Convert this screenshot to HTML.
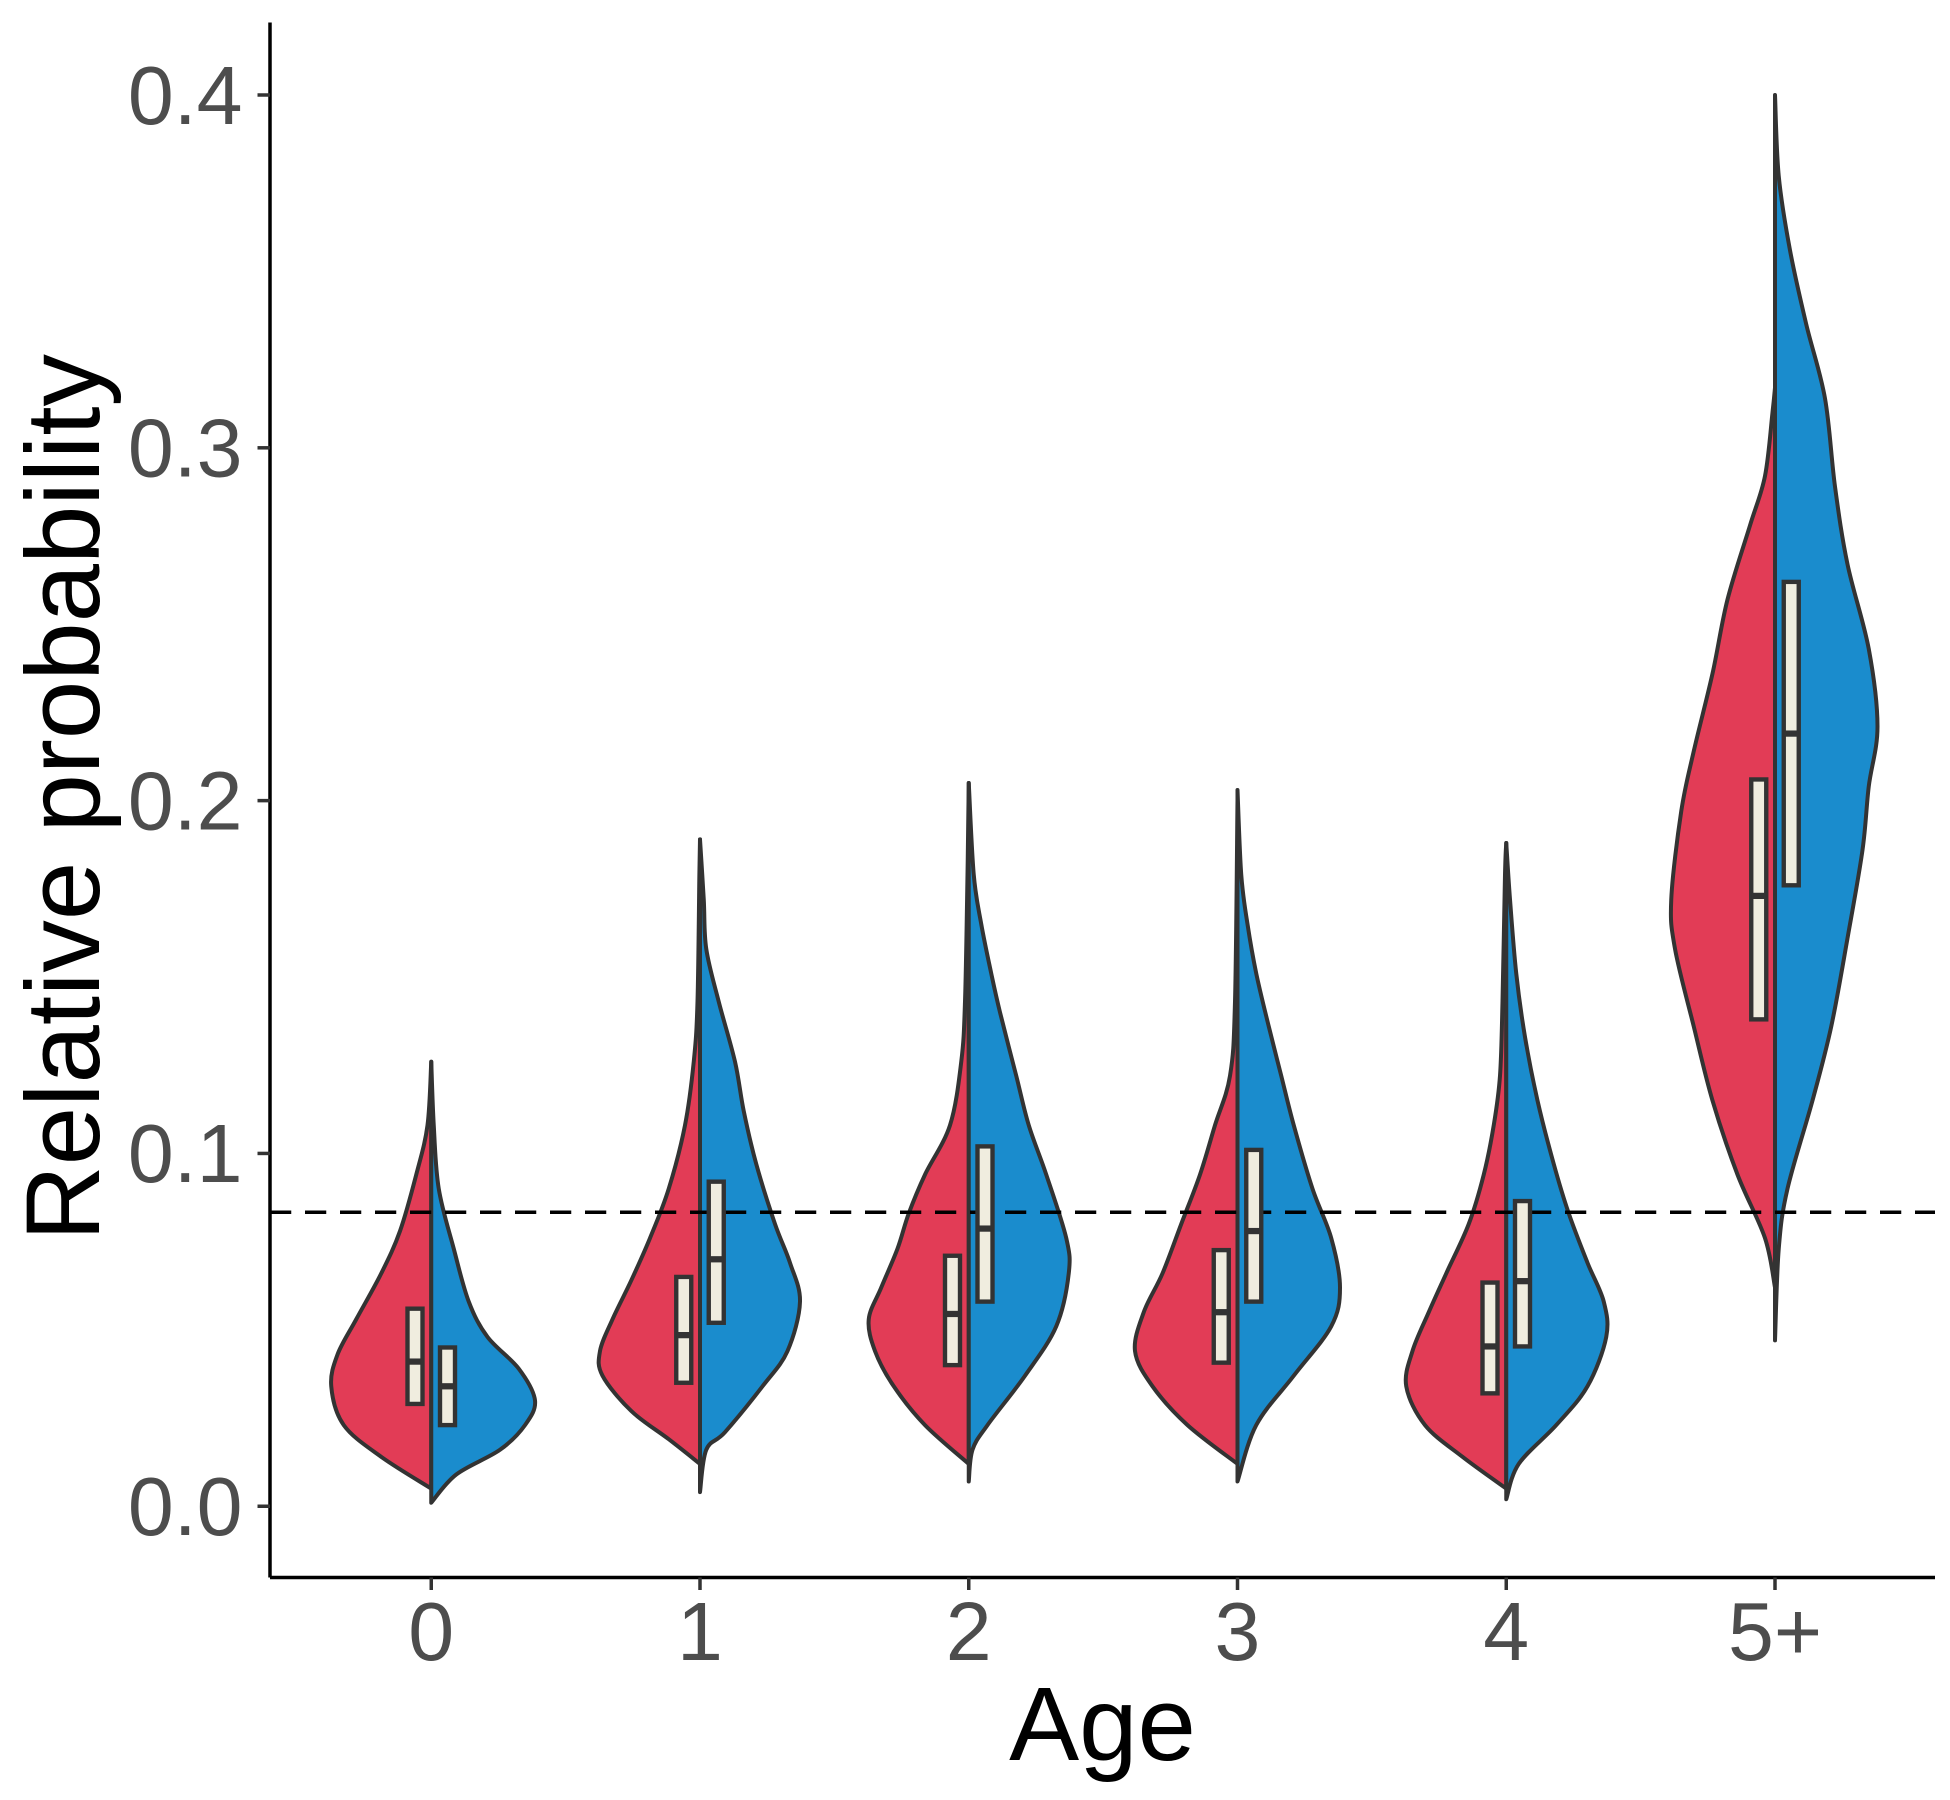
<!DOCTYPE html>
<html><head><meta charset="utf-8"><style>
html,body{margin:0;padding:0;background:#fff;}
svg{display:block;}
text{font-family:"Liberation Sans",Arial,sans-serif;}
</style></head><body>
<svg id="chart" width="1950" height="1800" viewBox="0 0 1560 1440" xmlns="http://www.w3.org/2000/svg">
<g id="marks"></g>
<line x1="216" y1="18" x2="216" y2="1262" stroke="#000" stroke-width="2.8"/>
<line x1="216" y1="1262" x2="1548" y2="1262" stroke="#000" stroke-width="2.8"/>
<g id="axes"></g>
<text x="882" y="1408" font-size="84" text-anchor="middle" fill="#000">Age</text>
<text transform="translate(79,638) rotate(-90)" font-size="84" text-anchor="middle" fill="#000">Relative probability</text>
</svg>
<script>
const categories = ["0","1","2","3","4","5+"];
const yTicks = [0.0,0.1,0.2,0.3,0.4];
const yTickLabels = ["0.0","0.1","0.2","0.3","0.4"];
const refLine = 1/12;
const redProfiles = [
 [[0.005,0],[0.014,40],[0.023,70],[0.034,80],[0.043,75],[0.053,60],[0.066,40],[0.078,25],[0.094,12],[0.108,3],[0.126,0]],
 [[0.012,0],[0.019,25],[0.027,55],[0.037,78],[0.044,80],[0.053,70],[0.064,55],[0.076,40],[0.090,25],[0.108,12],[0.126,5],[0.143,2],[0.179,0.5],[0.189,0]],
 [[0.012,0],[0.023,35],[0.034,60],[0.044,75],[0.053,80],[0.062,70],[0.073,57],[0.083,48],[0.094,35],[0.108,15],[0.126,6],[0.143,3],[0.179,1],[0.205,0]],
 [[0.012,0],[0.023,40],[0.034,68],[0.044,82],[0.055,75],[0.066,60],[0.080,45],[0.094,30],[0.108,18],[0.122,6],[0.143,2],[0.200,0]],
 [[0.005,0],[0.014,35],[0.023,65],[0.034,80],[0.044,75],[0.055,62],[0.066,48],[0.080,30],[0.094,18],[0.108,10],[0.122,5],[0.143,3],[0.179,1],[0.188,0]],
 [[0.062,0],[0.076,8],[0.094,30],[0.115,50],[0.136,65],[0.158,80],[0.172,83],[0.197,75],[0.214,65],[0.236,50],[0.257,38],[0.278,20],[0.292,8],[0.310,2],[0.317,0]]
];
const blueProfiles = [
 [[0.001,0],[0.009,20],[0.016,55],[0.023,75],[0.030,83],[0.039,70],[0.048,45],[0.058,30],[0.073,18],[0.090,6],[0.108,2],[0.126,0]],
 [[0.004,0],[0.016,5],[0.021,20],[0.034,50],[0.044,70],[0.058,80],[0.069,72],[0.080,60],[0.097,45],[0.112,35],[0.126,28],[0.143,15],[0.158,5],[0.172,3],[0.189,0]],
 [[0.007,0],[0.016,3],[0.023,15],[0.037,45],[0.051,70],[0.066,80],[0.076,78],[0.094,62],[0.108,48],[0.122,38],[0.140,25],[0.151,18],[0.165,10],[0.179,4],[0.205,0]],
 [[0.007,0],[0.023,15],[0.037,45],[0.051,75],[0.062,82],[0.076,75],[0.090,60],[0.108,45],[0.122,35],[0.136,25],[0.151,15],[0.165,8],[0.179,3],[0.203,0]],
 [[0.002,0],[0.012,10],[0.023,40],[0.034,65],[0.048,80],[0.058,78],[0.069,65],[0.083,50],[0.097,38],[0.115,25],[0.133,15],[0.151,8],[0.172,3],[0.188,0]],
 [[0.047,0],[0.073,3],[0.090,10],[0.115,30],[0.136,45],[0.161,58],[0.186,70],[0.204,75],[0.221,82],[0.243,75],[0.267,58],[0.289,48],[0.314,40],[0.335,25],[0.356,12],[0.377,3],[0.400,0]]
];
const redQ1 = [0.029,0.035,0.040,0.0407,0.032,0.138];
const redMedian = [0.041,0.0485,0.0545,0.055,0.0453,0.173];
const redQ3 = [0.056,0.065,0.071,0.0726,0.0634,0.206];
const blueQ1 = [0.023,0.052,0.058,0.058,0.0453,0.176];
const blueMedian = [0.034,0.070,0.0787,0.078,0.0638,0.219];
const blueQ3 = [0.045,0.092,0.102,0.101,0.0865,0.262];

const NS="http://www.w3.org/2000/svg";
const y = v => 1205 - v*2822.5;
const x = i => 345 + i*215;
const wScale = d => d;
const marks = document.getElementById('marks');
const axes = document.getElementById('axes');
function mk(tag, attrs, parent){const e=document.createElementNS(NS,tag);for(const k in attrs)e.setAttribute(k,attrs[k]);parent.appendChild(e);return e;}

function smoothPath(pts){
  let d=`M${pts[0][0]},${pts[0][1]}`;
  for(let i=0;i<pts.length-1;i++){
    const p0=pts[Math.max(0,i-1)],p1=pts[i],p2=pts[i+1],p3=pts[Math.min(pts.length-1,i+2)];
    const c1x=p1[0]+(p2[0]-p0[0])/6,c1y=p1[1]+(p2[1]-p0[1])/6;
    const c2x=p2[0]-(p3[0]-p1[0])/6,c2y=p2[1]-(p3[1]-p1[1])/6;
    d+=` C${c1x},${c1y} ${c2x},${c2y} ${p2[0]},${p2[1]}`;
  }
  return d;
}
function halfViolin(i, prof, dir, color, name){
  const cx=x(i);
  const pts=prof.map(p=>[cx+dir*wScale(p[1]), y(p[0])]);
  const d=smoothPath(pts)+` L${cx},${y(prof[prof.length-1][0])} L${cx},${y(prof[0][0])} Z`;
  const p=mk('path',{d:d,fill:color,stroke:'#333333','stroke-width':3.2,'stroke-linejoin':'round'},marks);
  
  
}
function box(i, off, q1, med, q3, name){
  const cx=x(i)+off;
  const r=mk('rect',{x:cx-6,y:y(q3),width:12,height:y(q1)-y(q3),fill:'#F0EDDF',stroke:'#333333','stroke-width':3.5},marks);
  
  
  const m=mk('line',{x1:cx-6,x2:cx+6,y1:y(med),y2:y(med),stroke:'#333333','stroke-width':5},marks);
  
  
}
categories.forEach((c,i)=>{
  halfViolin(i, redProfiles[i], -1, '#E23C56', 'violin-red-'+c);
  halfViolin(i, blueProfiles[i], 1, '#1A8CCD', 'violin-blue-'+c);
});
const rl=mk('line',{x1:216,x2:1548,y1:y(refLine),y2:y(refLine),stroke:'#000','stroke-width':2.8,'stroke-dasharray':'17,11'},marks);


categories.forEach((c,i)=>{
  box(i,-13,redQ1[i],redMedian[i],redQ3[i],'box-red-'+c);
  box(i,13,blueQ1[i],blueMedian[i],blueQ3[i],'box-blue-'+c);
});
yTicks.forEach((v,i)=>{
  const t=mk('line',{x1:206,x2:216,y1:y(v),y2:y(v),stroke:'#333','stroke-width':2.8},axes);
  
  
  const l=mk('text',{x:194,y:y(v)+23,'font-size':66,'text-anchor':'end',fill:'#4D4D4D'},axes);
  l.textContent=yTickLabels[i];
  
  
});
categories.forEach((c,i)=>{
  const t=mk('line',{x1:x(i),x2:x(i),y1:1262,y2:1272,stroke:'#333','stroke-width':2.8},axes);
  
  
  const l=mk('text',{x:x(i),y:1328,'font-size':66,'text-anchor':'middle',fill:'#4D4D4D'},axes);
  l.textContent=c;
  
  
});
</script>
</body></html>
